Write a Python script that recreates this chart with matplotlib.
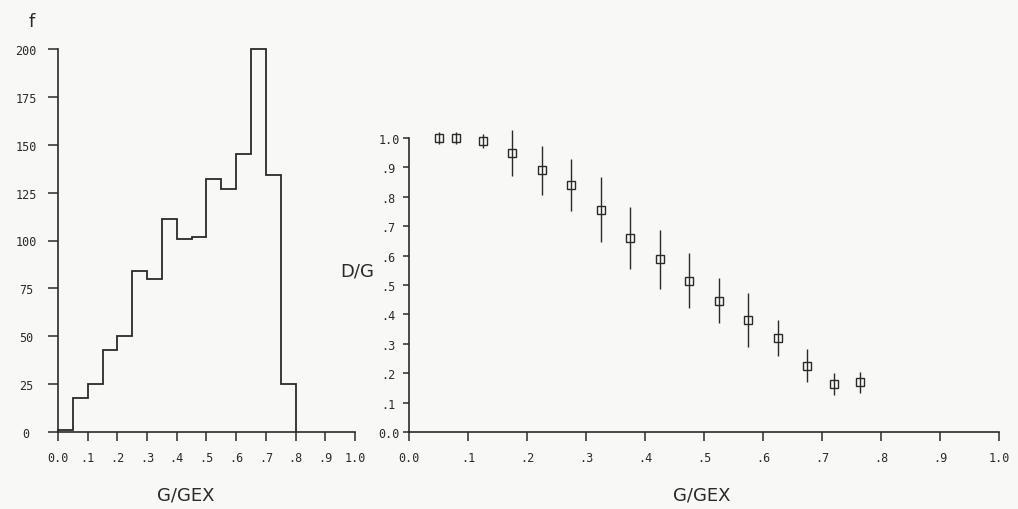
import matplotlib
matplotlib.use("Agg")
import matplotlib.pyplot as plt
import numpy as np

# histogram of G/GEX (bin edges every 0.05)
bin_edges = [0.0, 0.05, 0.1, 0.15, 0.2, 0.25, 0.3, 0.35, 0.4, 0.45, 0.5,
             0.55, 0.6, 0.65, 0.7, 0.75, 0.8]
counts = [1, 18, 25, 43, 50, 84, 80, 111, 101, 102, 132, 127, 145, 200, 134, 25]

# D/G against G/GEX with error bars
g_gex = [0.05, 0.08, 0.125, 0.175, 0.225, 0.275, 0.325, 0.375, 0.425,
         0.475, 0.525, 0.575, 0.625, 0.675, 0.72, 0.765]
d_g = [1.0, 1.0, 0.99, 0.95, 0.89, 0.84, 0.756, 0.659, 0.588,
       0.515, 0.447, 0.382, 0.32, 0.226, 0.163, 0.169]
d_g_err = [0.02, 0.02, 0.025, 0.078, 0.083, 0.088, 0.11, 0.106, 0.1,
           0.094, 0.077, 0.092, 0.062, 0.057, 0.037, 0.035]

hist_xticks = [0.0, 0.1, 0.2, 0.3, 0.4, 0.5, 0.6, 0.7, 0.8, 0.9, 1.0]
hist_xlabels = ["0.0", ".1", ".2", ".3", ".4", ".5", ".6", ".7", ".8", ".9", "1.0"]
hist_yticks = [0, 25, 50, 75, 100, 125, 150, 175, 200]
dg_yticks = [0.0, 0.1, 0.2, 0.3, 0.4, 0.5, 0.6, 0.7, 0.8, 0.9, 1.0]
dg_ylabels = ["0.0", ".1", ".2", ".3", ".4", ".5", ".6", ".7", ".8", ".9", "1.0"]

ink = "#2a2a2a"
bg = "#f8f8f6"
mono = "DejaVu Sans Mono"

fig = plt.figure(figsize=(10.18, 5.1), dpi=100, facecolor=bg)


def style_axes(ax, ytick_len, ypad):
    ax.set_facecolor(bg)
    for side in ["top", "right"]:
        ax.spines[side].set_visible(False)
    for side in ["left", "bottom"]:
        ax.spines[side].set_color(ink)
        ax.spines[side].set_linewidth(1.2)
    ax.tick_params(axis="x", direction="out", length=6.5, width=1.1, color=ink,
                   pad=7, labelsize=8.5, labelcolor=ink)
    ax.tick_params(axis="y", direction="out", length=ytick_len, width=1.1, color=ink,
                   pad=ypad, labelsize=8.5, labelcolor=ink)
    for lab in ax.get_xticklabels() + ax.get_yticklabels():
        lab.set_fontfamily(mono)
    for lab in ax.get_yticklabels():
        lab.set_horizontalalignment("center")


# left: histogram
ax1 = fig.add_axes([58 / 1018, 77 / 510, 297 / 1018, 383 / 510])
ax1.stairs(counts, bin_edges, color=ink, linewidth=1.3, clip_on=False)
ax1.set_xlim(0, 1.0)
ax1.set_ylim(0, 200)
ax1.set_xticks(hist_xticks, hist_xlabels)
ax1.set_yticks(hist_yticks, [str(v) for v in hist_yticks])
style_axes(ax1, 7, 16)

# right: D/G
ax2 = fig.add_axes([409 / 1018, 77 / 510, 590 / 1018, 294 / 510])
eb = ax2.errorbar(g_gex, d_g, yerr=d_g_err, fmt="s", color=ink, ecolor=ink,
                  markerfacecolor="none", markeredgecolor=ink, markersize=6,
                  markeredgewidth=1.0, elinewidth=1.0, capsize=0)
for artist in eb.get_children():
    artist.set_clip_on(False)
ax2.set_xlim(0, 1.0)
ax2.set_ylim(0, 1.0)
ax2.set_xticks(hist_xticks, hist_xlabels)
ax2.set_yticks(dg_yticks, dg_ylabels)
style_axes(ax2, 4.5, 10)

# axis titles in the old plotter positions
fig.text(32 / 1018, 1 - 22 / 510, "f", fontsize=13, color=ink, ha="center", va="center")
fig.text(186 / 1018, 1 - 496 / 510, "G/GEX", fontsize=13, color=ink, ha="center", va="center")
fig.text(357 / 1018, 1 - 272 / 510, "D/G", fontsize=13, color=ink, ha="center", va="center")
fig.text(702 / 1018, 1 - 496 / 510, "G/GEX", fontsize=13, color=ink, ha="center", va="center")

fig.savefig("out.png", dpi=100, facecolor=bg)
